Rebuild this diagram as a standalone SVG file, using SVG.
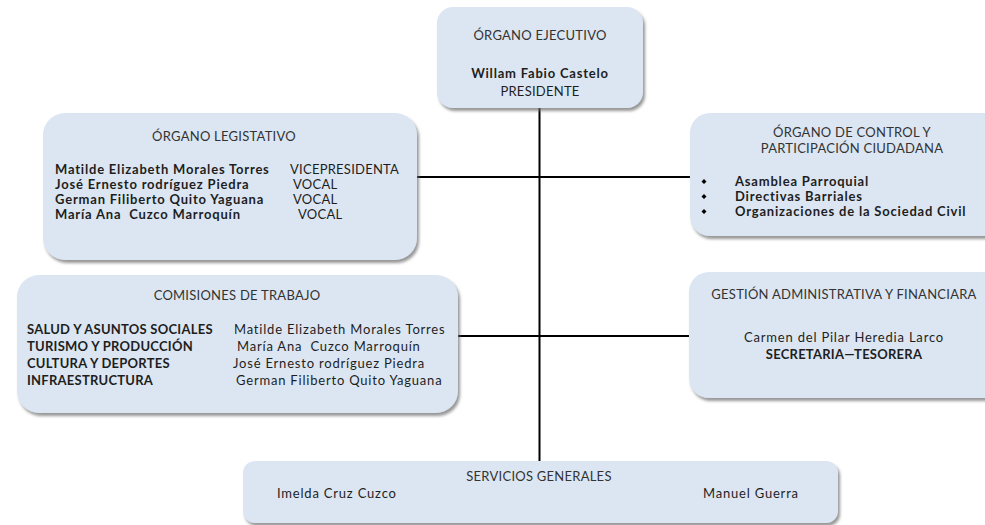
<svg xmlns="http://www.w3.org/2000/svg" width="985" height="525" viewBox="0 0 985 525">
<defs>
<filter id="sh" x="-10%" y="-20%" width="125%" height="150%">
<feDropShadow dx="2" dy="3" stdDeviation="1.6" flood-color="#6b6b6b" flood-opacity="0.7"/>
</filter>
</defs>
<style>
.box{fill:#dce6f2;filter:url(#sh)}
text{font-family:Lato,"Liberation Sans",sans-serif;font-size:13px;fill:#1e1e1e;letter-spacing:0.25px;white-space:pre}
.m{letter-spacing:0.8px}
.t{fill:#333}
.b{font-weight:bold}
.c{text-anchor:middle}
.ln{stroke:#000;stroke-width:2;fill:none}
</style>
<rect width="985" height="525" fill="#fff"/>
<g id="connectors">
<line class="ln" x1="539.5" y1="108" x2="539.5" y2="461"/>
<line class="ln" x1="417" y1="177" x2="690" y2="177"/>
<line class="ln" x1="458" y1="336" x2="689" y2="336"/>
</g>
<g id="ejecutivo">
<rect class="box" x="437" y="7" width="206" height="101" rx="16"/>
<text class="t c" x="540" y="40">ÓRGANO EJECUTIVO</text>
<text class="b c m" x="540" y="78">Willam Fabio Castelo</text>
<text class="c" x="540" y="96">PRESIDENTE</text>
</g>
<g id="legislativo">
<rect class="box" x="43" y="113" width="374" height="147" rx="22"/>
<text class="t c" x="224" y="141">ÓRGANO LEGISTATIVO</text>
<text class="b m" x="55" y="174">Matilde Elizabeth Morales Torres</text>
<text class="b m" x="55" y="189">José Ernesto rodríguez Piedra</text>
<text class="b m" x="55" y="204">German Filiberto Quito Yaguana</text>
<text class="b m" x="55" y="219">María Ana  Cuzco Marroquín</text>
<text x="290" y="174">VICEPRESIDENTA</text>
<text x="293" y="189">VOCAL</text>
<text x="293" y="204">VOCAL</text>
<text x="298" y="219">VOCAL</text>
</g>
<g id="control">
<rect class="box" x="690" y="113" width="320" height="123" rx="20"/>
<text class="t c" x="852" y="137">ÓRGANO DE CONTROL Y</text>
<text class="t c" x="852" y="153">PARTICIPACIÓN CIUDADANA</text>
<path d="M704 179l2.5 2.5l-2.5 2.5l-2.5-2.5z M704 194l2.5 2.5l-2.5 2.5l-2.5-2.5z M704 209l2.5 2.5l-2.5 2.5l-2.5-2.5z" fill="#000"/>
<text class="b m" x="735" y="186">Asamblea Parroquial</text>
<text class="b m" x="735" y="201">Directivas Barriales</text>
<text class="b m" x="735" y="216">Organizaciones de la Sociedad Civil</text>
</g>
<g id="comisiones">
<rect class="box" x="17" y="275" width="441" height="138" rx="22"/>
<text class="t c" x="237" y="300">COMISIONES DE TRABAJO</text>
<text class="b" x="27" y="334">SALUD Y ASUNTOS SOCIALES</text>
<text class="b" x="27" y="351">TURISMO Y PRODUCCIÓN</text>
<text class="b" x="27" y="368">CULTURA Y DEPORTES</text>
<text class="b" x="27" y="385">INFRAESTRUCTURA</text>
<text class="m" x="234" y="334">Matilde Elizabeth Morales Torres</text>
<text class="m" x="237" y="351">María Ana  Cuzco Marroquín</text>
<text class="m" x="233" y="368">José Ernesto rodríguez Piedra</text>
<text class="m" x="236" y="385">German Filiberto Quito Yaguana</text>
</g>
<g id="gestion">
<rect class="box" x="689" y="272" width="320" height="126" rx="20"/>
<text class="t c" x="844" y="299">GESTIÓN ADMINISTRATIVA Y FINANCIARA</text>
<text class="c m" x="844" y="342">Carmen del Pilar Heredia Larco</text>
<text class="b c" x="844" y="359">SECRETARIA—TESORERA</text>
</g>
<g id="servicios">
<rect class="box" x="243" y="461" width="595" height="62" rx="12"/>
<text class="t c" x="539" y="481">SERVICIOS GENERALES</text>
<text class="m" x="277" y="498">Imelda Cruz Cuzco</text>
<text class="m" x="703" y="498">Manuel Guerra</text>
</g>
</svg>
